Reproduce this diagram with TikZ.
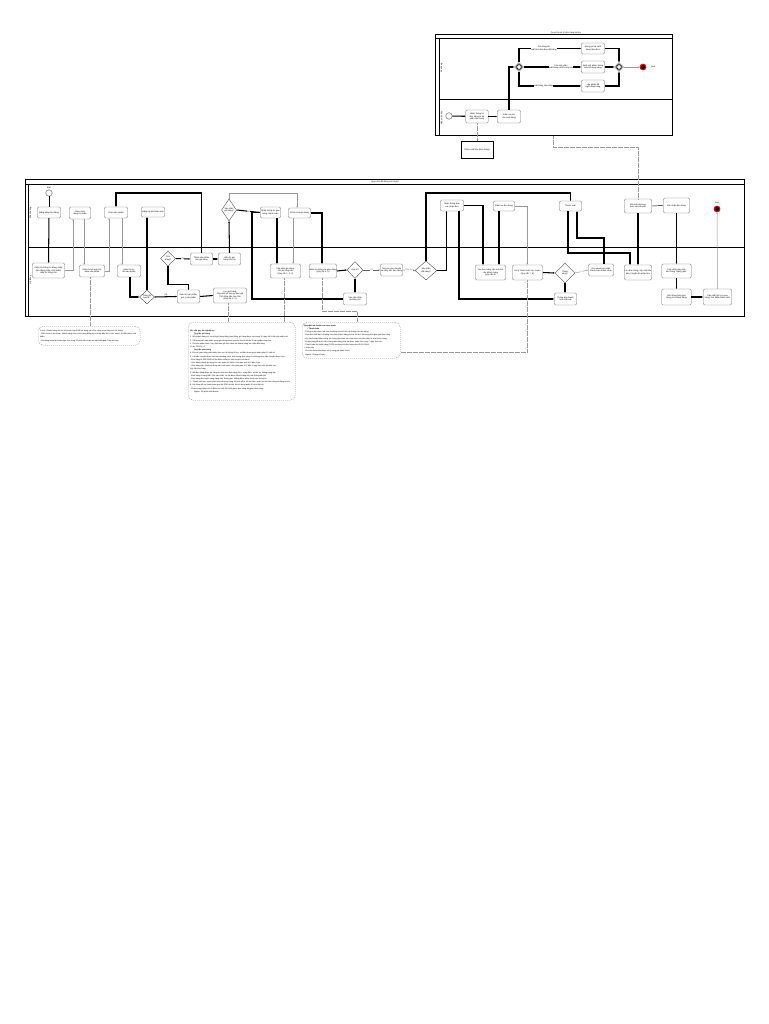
\documentclass[tikz,border=0pt]{standalone}
\usepackage{fontspec}
\setmainfont{Liberation Sans}
\usetikzlibrary{shapes.geometric,arrows.meta,calc}
\newcommand{\bfont}{\fontsize{2.1}{2.5}\selectfont}
\newcommand{\nfont}{\fontsize{1.9}{3.2}\selectfont}

\begin{document}
\begin{tikzpicture}[x=1pt,y=-1pt]
            % Styles
            \tikzstyle{task} = [rectangle, draw=black!55, line width=0.35pt, rounded corners=1.4pt, fill=white, align=center, font=\bfont, inner sep=0.3pt]
            \tikzstyle{gate} = [diamond, draw=black!70, line width=0.4pt, fill=white, align=center, font=\bfont, inner sep=0pt]
            \tikzstyle{event} = [circle, draw=black!70, line width=0.4pt, fill=white, minimum size=6.5pt, inner sep=0pt]
            \tikzstyle{endev} = [circle, draw=red!85!black, line width=1.1pt, fill=black, minimum size=5.5pt, inner sep=0pt]
            \tikzstyle{flow} = [-{Stealth[length=1.6pt,width=1.4pt]}, line width=1.05pt]
            \tikzstyle{msg} = [-{Stealth[length=1.6pt,width=1.4pt]}, line width=0.5pt, black!40]
            \tikzstyle{assoc} = [line width=0.4pt, black!40, dash pattern=on 0.6pt off 0.6pt]
            \tikzstyle{lbl} = [font=\bfont, fill=white, inner sep=0.2pt, align=center]
            \tikzstyle{memo} = [rectangle, draw=black!45, dash pattern=on 1pt off 1pt, rounded corners=5pt, line width=0.4pt, align=left, font=\nfont, anchor=north west, inner sep=2pt]

            \fill[white] (0,0) rectangle (768,1024);
            \useasboundingbox (0,0) rectangle (768,1024);

            % Pool: kho
            \node[font=\bfont] (title1) at (566,33.2) {Quy trình xử lý đơn hàng tại kho};
            \draw[line width=1pt] (435,35) rectangle (672,136);
            \draw[line width=0.4pt] (435,38) -- (672,38);
            \draw[line width=0.5pt] (439,38) -- (439,136);
            \draw[line width=0.8pt] (439,99) -- (672,99);
            \node[font=\bfont, rotate=90] (lanek1) at (441.6,68) {Kho hàng};
            \node[font=\bfont, rotate=90] (lanek2) at (441.6,118) {Nhân viên kho};

            \node[event] (sa) at (449,116) {};
            \node[task, text width=22pt, minimum height=13pt] (ka) at (477,116.5) {Nhận thông tin đơn hàng từ bộ phận bán hàng};
            \node[task, text width=23pt, minimum height=13pt] (kb) at (509,116.5) {Kiểm tra yêu cầu xuất hàng};
            \node[gate, minimum width=9pt, minimum height=9pt] (gwa) at (519,67) {};
            \draw[line width=0.7pt] (gwa.center) circle (2.4pt);
            \node[task, text width=23pt, minimum height=11pt] (ba) at (593,48.5) {Đóng gói và xuất hàng theo đơn};
            \node[task, text width=23pt, minimum height=12pt] (bb) at (593,67) {Xuất một phần, thông báo bổ sung hàng};
            \node[task, text width=23pt, minimum height=12pt] (bc) at (593,86) {Lập phiếu đề nghị nhập hàng};
            \node[gate, minimum width=9pt, minimum height=9pt] (gwb) at (619,67) {};
            \draw[line width=0.7pt] (gwb.center) circle (2.4pt);
            \node[endev] (ea) at (643,67) {};
            \node[font=\bfont, anchor=west] (eal) at (648,67) {End};
            \node[rectangle, draw, line width=0.7pt, minimum width=32pt, minimum height=17pt, font=\bfont] (phieu) at (477,149.5) {Phiếu xuất kho (Đơn hàng)};

            \draw[flow] (sa) -- (ka);
            \draw[flow] (ka) -- (kb);
            \draw[flow] (kb.north) |- (gwa.west);
            \draw[flow] (gwa.north) |- node[lbl, pos=0.7] {Còn hàng đủ\\xuất kho theo đơn đặt hàng} (ba.west);
            \draw[flow] (gwa.east) -- node[lbl, pos=0.65] {Còn một phần\\xuất hàng và bổ sung sau} (bb.west);
            \draw[flow] (gwa.south) |- node[lbl, pos=0.7] {Hết hàng, báo nhập} (bc.west);
            \draw[flow] (ba.east) -| (gwb.north);
            \draw[flow] (bb.east) -- (gwb.west);
            \draw[flow] (bc.east) -| (gwb.south);
            \draw[msg] (gwb.east) -- (ea.west);
            \draw[assoc] (ka.south) -- (phieu.north);

            % Pool: dat hang
            \draw[line width=1pt] (25,180) rectangle (744,316);
            \draw[line width=0.4pt] (25,184) -- (744,184);
            \draw[line width=0.5pt] (28,184) -- (28,316);
            \draw[line width=0.8pt] (28,247) -- (744,247);
            \node[font=\bfont] (title2) at (385,181.8) {Quy trình đặt hàng trực tuyến};
            \node[font=\bfont, rotate=90] (lane1) at (30.6,213) {Khách hàng};
            \node[font=\bfont, rotate=90] (lane2) at (30.6,280) {Hệ thống};

            % Nodes: khach hang
            \node[event] (sb) at (49,193) {};
            \node[font=\bfont] (sbl) at (49,187.6) {Start};
            \node[task, text width=23pt, minimum height=11pt] (dangnhap) at (49,212.5) {Đăng nhập hệ thống};
            \node[task, text width=21pt, minimum height=12pt] (chontk) at (80,213) {Chọn chức năng tìm kiếm};
            \node[task, text width=23pt, minimum height=11pt] (chonsp) at (116,212.5) {Chọn sản phẩm};
            \node[task, text width=23pt, minimum height=10pt] (dangky) at (153,212) {Đăng ký tài khoản mới};
            \node[gate, minimum width=15pt, minimum height=22pt] (xacnhangh) at (229,210) {Xác nhận\\giỏ hàng?};
            \node[task, text width=20pt, minimum height=11pt] (nhapgh) at (270.5,212.5) {Nhập thông tin giao hàng, thanh toán};
            \node[task, text width=22pt, minimum height=10pt] (suagh) at (299.5,213) {Chỉnh sửa giỏ hàng};
            \node[task, text width=23pt, minimum height=11pt] (nhantb) at (452,205.5) {Nhận thông báo xác nhận đơn};
            \node[task, text width=21pt, minimum height=10pt] (ktdon) at (504,206) {Kiểm tra đơn hàng};
            \node[task, text width=22pt, minimum height=10pt] (thanhtoan) at (570.5,206) {Thanh toán};
            \node[task, text width=27pt, minimum height=14pt] (dexuat) at (638,206) {Đề xuất phương thức vận chuyển};
            \node[task, text width=26pt, minimum height=15pt] (xacnhandon) at (676.5,205.5) {Xác nhận đơn hàng};
            \node[endev] (eb) at (717,209) {};
            \node[font=\bfont] (ebl) at (717,202.6) {End};

            % Nodes: he thong
            \node[task, text width=32pt, minimum height=15pt] (ktdn) at (48.5,270.5) {Kiểm tra thông tin đăng nhập\\(tên đăng nhập, mật khẩu)\\Hiển thị trang chủ};
            \node[task, text width=25pt, minimum height=12pt] (hienkq) at (92,271) {Hiển thị kết quả tìm kiếm sản phẩm};
            \node[task, text width=23pt, minimum height=12pt] (hienct) at (129,271) {Hiển thị chi tiết sản phẩm};
            \node[gate, minimum width=15pt, minimum height=14pt] (hople) at (147,297) {Thông tin\\hợp lệ?};
            \node[gate, minimum width=15pt, minimum height=15pt] (conhang) at (168,258.5) {Còn\\hàng?};
            \node[task, text width=22pt, minimum height=12pt] (themgh) at (201.5,259) {Thêm sản phẩm vào giỏ hàng};
            \node[task, text width=22pt, minimum height=12pt] (hiengh) at (229.5,259) {Hiển thị giỏ hàng hiện tại};
            \node[task, text width=22pt, minimum height=13pt] (baoloi) at (188.5,296.5) {Hiển thị sản phẩm, gợi ý sản phẩm};
            \node[task, text width=33pt, minimum height=15pt] (luugh) at (230,295.5) {Lưu giỏ hàng\\Cập nhật số lượng, đơn giá\\Tính tổng tiền tạm tính\\(Quy tắc 1, 2)};
            \node[task, text width=30pt, minimum height=14pt] (capnhatgh) at (285.5,271) {Cập nhật giỏ hàng, tính lại tổng tiền\\(Quy tắc 1, 2, 3)};
            \node[task, text width=27pt, minimum height=14pt] (ktgh) at (323,271) {Kiểm tra thông tin giao hàng\\(Quy tắc 4, 5)};
            \node[gate, minimum width=16pt, minimum height=17pt] (hople2) at (355,270) {Hợp lệ?};
            \node[task, text width=23pt, minimum height=12pt] (nhaplai) at (355,299) {Yêu cầu nhập lại thông tin};
            \node[task, text width=22pt, minimum height=12pt] (tinhphi) at (391.5,270) {Tính phí vận chuyển và tổng tiền đơn hàng};
            \node[gate, minimum width=22pt, minimum height=19pt] (xacnhandat) at (426,270.5) {Xác nhận\\đặt hàng?};
            \node[task, text width=30pt, minimum height=15pt] (taodon) at (490.5,272.5) {Tạo đơn hàng, gửi mã đơn\\cho khách hàng\\(Quy tắc 6)};
            \node[task, text width=30pt, minimum height=15pt] (xulytt) at (527.5,272.5) {Xử lý thanh toán trực tuyến\\(Quy tắc 7, 8)};
            \node[gate, minimum width=20pt, minimum height=20pt] (thanhcong) at (565,273) {Thành\\công?};
            \node[task, text width=22pt, minimum height=12pt] (tbthatbai) at (565.5,299) {Thông báo thanh toán thất bại};
            \node[task, text width=25pt, minimum height=12pt] (guiemail) at (601,270) {Gửi email xác nhận thanh toán thành công};
            \node[task, text width=27pt, minimum height=15pt] (luudon) at (638,272.5) {Lưu đơn hàng, cập nhật tồn kho, chuyển bộ phận kho};
            \node[task, text width=29pt, minimum height=14pt] (capnhattt) at (676.5,271) {Cập nhật trạng thái đơn hàng ``Đang giao''};
            \node[task, text width=29pt, minimum height=16pt] (guitb) at (676.5,297) {Gửi thông báo giao hàng cho khách hàng};
            \node[task, text width=28pt, minimum height=16pt] (lichsu) at (717.5,297) {Cập nhật lịch sử mua hàng, tích điểm thành viên};

            % Notes
            \node[memo, text width=98pt, minimum height=19pt] (memo1) at (38,326) {Lưu ý: Khách hàng cần có tài khoản hợp lệ để sử dụng các chức năng mua hàng trên hệ thống.\\- Nếu chưa có tài khoản, khách hàng chọn chức năng đăng ký và nhập đầy đủ họ tên, email, số điện thoại, mật khẩu.\\- Hệ thống khóa tài khoản tạm thời trong 15 phút nếu nhập sai mật khẩu quá 5 lần liên tiếp.};
            \node[memo, text width=103pt, minimum height=78pt] (memo2) at (188,322) {\textbf{Ghi chú quy tắc nghiệp vụ}\\
            \hspace*{4pt}\textbf{Quy tắc giỏ hàng}\\
            1. Mỗi khách hàng chỉ có một giỏ hàng đang hoạt động; giỏ hàng được lưu trong 30 ngày kể từ lần cập nhật cuối.\\
            2. Số lượng mỗi sản phẩm trong giỏ không vượt quá tồn kho và tối đa 10 sản phẩm cùng loại.\\
            3. Giá sản phẩm được cập nhật theo giá hiện hành khi khách hàng xác nhận đặt hàng.\\
            Ví dụ: SP001 x 2\\
            \hspace*{4pt}\textbf{Quy tắc giao hàng}\\
            4. Địa chỉ giao hàng phải thuộc khu vực hệ thống hỗ trợ; số điện thoại người nhận gồm 10 chữ số.\\
            5. Phí vận chuyển được tính theo khoảng cách, khối lượng đơn hàng và phương thức vận chuyển được chọn.\\
            - Đơn hàng từ 500.000đ trở lên được miễn phí vận chuyển nội thành.\\
            - Giao hàng nhanh áp dụng cho các quận nội thành, thời gian giao từ 2 đến 4 giờ.\\
            - Giao hàng tiêu chuẩn áp dụng trên toàn quốc, thời gian giao từ 2 đến 5 ngày làm việc tùy khu vực.\\
            Quy tắc đơn hàng\\
            6. Mã đơn hàng được hệ thống tự sinh theo định dạng DH + ngày đặt + số thứ tự, không trùng lặp.\\
            - Đơn hàng ở trạng thái ``Chờ xác nhận'' có thể được khách hàng hủy mà không mất phí.\\
            - Đơn hàng đã chuyển sang trạng thái ``Đang giao'' không được phép chỉnh sửa thông tin.\\
            7. Thanh toán trực tuyến phải hoàn tất trong vòng 15 phút kể từ khi tạo đơn, quá thời hạn đơn hàng tự động bị hủy.\\
            8. Hệ thống hỗ trợ thanh toán qua thẻ ATM nội địa, thẻ tín dụng quốc tế và ví điện tử.\\
            - Khách hàng được tích 1 điểm cho mỗi 10.000đ giá trị đơn hàng đã giao thành công.\\
            \hspace*{4pt}Nguồn: Bộ phận kinh doanh};
            \node[memo, text width=94pt, minimum height=36pt] (memo3) at (302,322) {\textbf{Quy định về thanh toán trực tuyến}\\
            \hspace*{3pt}+ \textbf{Thanh toán}\\
            - Thông tin thẻ được mã hóa và không lưu trữ trên hệ thống của cửa hàng.\\
            - Giao dịch thất bại, hệ thống cho phép khách hàng thử lại tối đa 3 lần trong thời gian giữ đơn hàng.\\
            - Khi thanh toán thành công, hệ thống gửi email xác nhận kèm hóa đơn điện tử cho khách hàng.\\
            - Khách hàng đã bị trừ tiền nhưng đơn hàng thất bại được hoàn tiền trong 7 ngày làm việc.\\
            - Thanh toán khi nhận hàng (COD) áp dụng với đơn hàng dưới 5.000.000đ.\\
            + Hoàn tiền\\
            - Yêu cầu hoàn tiền được xử lý trong giờ hành chính.\\
            - Nguồn: Phòng kế toán};

            % Arrows
            \draw[line width=0.45pt] (sb) -- (dangnhap);
            \draw[flow] (dangnhap) -- (ktdn);
            \draw[msg] (ktdn.east) -| (73,0 |- chontk.south);
            \draw[msg] (84,0 |- chontk.south) -- (84,0 |- hienkq.north);
            \draw[msg] (hienkq.east) -| (109,0 |- chonsp.south);
            \draw[msg] (122,0 |- chonsp.south) -- (122,0 |- hienct.north);
            \draw[flow] (130,0 |- hienct.south) |- (hople.west);
            \draw[flow] (hople.north) -- (147,0 |- dangky.south);
            \draw[flow] (hople.east) -- node[lbl, above=0.3pt] {Có} (baoloi.west);
            \draw[flow] (conhang.south) -- ++(0,18) -| (baoloi.north);
            \draw[flow] (conhang.east) -- node[lbl] {Có} (themgh.west);
            \draw[flow] (themgh.east) -- (hiengh.west);
            \draw[flow] (themgh.north) -- (201.5,193) -| (chonsp.north);
            \draw[flow] (hiengh.north) -- (xacnhangh.south);
            \draw[msg] (xacnhangh.north) -- (229,193) -| (297,0 |- suagh.north);
            \draw[flow] (xacnhangh.east) -- node[lbl] {Có} (nhapgh.west);
            \draw[flow] (baoloi.east) -- (luugh.west);
            \draw[flow] (277,0 |- nhapgh.south) -- (277,0 |- capnhatgh.north);
            \draw[msg] (293,0 |- suagh.south) -- (293,0 |- capnhatgh.north);
            \draw[flow] (suagh.east) -| (322,0 |- ktgh.north);
            \draw[flow] (nhaplai.west) -| (252,212.5) -- (nhapgh.west);
            \draw[flow] (ktgh.east) -- (hople2.west);
            \draw[flow] (hople2.south) -- (nhaplai.north);
            \draw[msg, black!60] (hople2.east) -- node[lbl] {Có} (tinhphi.west);
            \draw[msg, black!60] (tinhphi.east) -- node[lbl] {Tiếp tục} (xacnhandat.west);
            \draw[flow] (xacnhandat.north) -- (426,193) -| (thanhtoan.north);
            \draw[flow] (xacnhandat.east) -| (446.5,0 |- nhantb.south);
            \draw[flow] (459,0 |- nhantb.south) |- (tbthatbai.west);
            \draw[flow] (nhantb.east) -| (483,0 |- taodon.north);
            \draw[flow] (499,0 |- ktdon.south) -- (499,0 |- taodon.north);
            \draw[msg] (ktdon.east) -| (527,0 |- xulytt.north);
            \draw[flow] (xulytt.east) -- (thanhcong.west);
            \draw[flow] (thanhcong.south) -- (565,0 |- tbthatbai.north);
            \draw[msg] (thanhcong.east) -- node[lbl] {Có} (guiemail.west);
            \draw[flow] (604,0 |- guiemail.north) |- (577,238) -- (577,0 |- thanhtoan.south);
            \draw[flow] (568,0 |- thanhtoan.south) |- (630,253) -- (630,0 |- luudon.north);
            \draw[flow] (dexuat.south) -- (luudon.north);
            \draw[line width=0.45pt] (dexuat.east) -- (xacnhandon.west);
            \draw[flow] (xacnhandon.south) -- (capnhattt.north);
            \draw[flow] (capnhattt.south) -- (guitb.north);
            \draw[flow] (guitb.east) -- (lichsu.west);
            \draw[msg] (lichsu.north) -- (eb.south);

            % Associations
            \coordinate (khob) at (553,136);
            \draw[assoc] (khob) |- (638,147) -- (dexuat.north);
            \draw[assoc] (90,0 |- hienkq.south) -- (90,0 |- memo1.north);
            \draw[assoc] (228,0 |- luugh.south) -- (228,0 |- memo2.north);
            \draw[assoc] (284,0 |- capnhatgh.south) -- (284,0 |- memo2.north);
            \draw[assoc] (322,0 |- ktgh.south) |- (357,311) -- (357,0 |- memo3.north);
            \draw[assoc] (527,0 |- xulytt.south) |- ($(memo3.south east)+(0,-6)$);
\end{tikzpicture}
\end{document}
